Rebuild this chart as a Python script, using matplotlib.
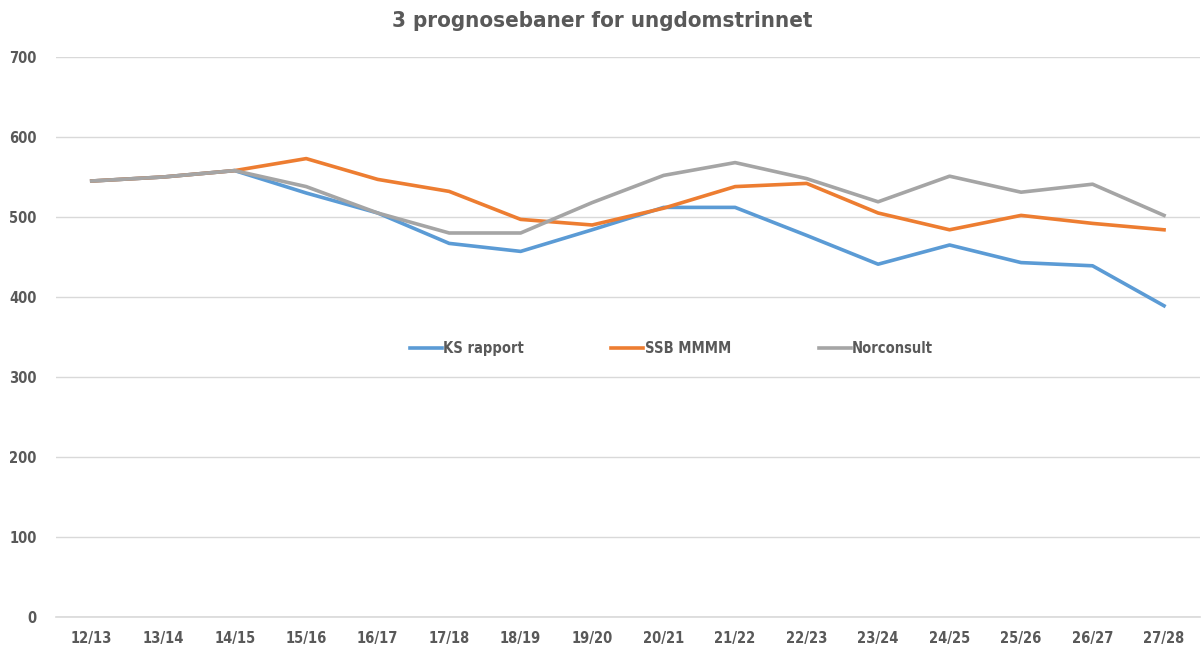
import matplotlib.pyplot as plt

# Data
years = ['12/13', '13/14', '14/15', '15/16', '16/17', '17/18', '18/19', '19/20',
         '20/21', '21/22', '22/23', '23/24', '24/25', '25/26', '26/27', '27/28']
ks_rapport = [545, 550, 558, 530, 505, 467, 457, 484, 512, 512, 477, 441, 465, 443, 439, 389]
ssb_mmmm = [545, 550, 558, 573, 547, 532, 497, 490, 511, 538, 542, 505, 484, 502, 492, 484]
norconsult = [545, 550, 558, 538, 505, 480, 480, 518, 552, 568, 548, 519, 551, 531, 541, 502]

plt.rcParams['font.family'] = ['DejaVu Sans']
plt.rcParams['font.stretch'] = 'condensed'
text_color = '#595959'

fig = plt.figure(figsize=(12.04, 6.47), dpi=100)
ax = fig.add_axes([0.0465, 0.0464, 0.950, 0.8655])

x = range(len(years))
ax.plot(x, ks_rapport, color='#5B9BD5', linewidth=2.6, label='KS rapport')
ax.plot(x, ssb_mmmm, color='#ED7D31', linewidth=2.6, label='SSB MMMM')
ax.plot(x, norconsult, color='#A5A5A5', linewidth=2.6, label='Norconsult')

ax.set_xlim(-0.5, len(years) - 0.5)
ax.set_ylim(0, 700)
ax.set_yticks(range(0, 701, 100))
ax.set_xticks(list(x))
ax.set_xticklabels(years)
ax.grid(True, axis='y', color='#d9d9d9', linewidth=1)
ax.axhline(0, color='#d9d9d9', linewidth=1.2, clip_on=False, zorder=0)
ax.set_axisbelow(True)
for s in ax.spines.values():
    s.set_visible(False)
ax.tick_params(length=0, labelsize=10.5, labelcolor=text_color)
ax.tick_params(axis='x', pad=10)
ax.tick_params(axis='y', pad=14)
for lbl in ax.get_xticklabels() + ax.get_yticklabels():
    lbl.set_fontweight('bold')

fig.text(0.5, 0.967, '3 prognosebaner for ungdomstrinnet', ha='center', va='center',
         fontsize=16, fontweight='bold', color=text_color)

leg = ax.legend(loc='center', bbox_to_anchor=(0.538, 0.479), ncol=3, frameon=False,
                handlelength=2.2, handletextpad=0.1, columnspacing=6,
                prop={'weight': 'bold', 'size': 10.5})
for t in leg.get_texts():
    t.set_color(text_color)

plt.savefig('out.png', dpi=100)
